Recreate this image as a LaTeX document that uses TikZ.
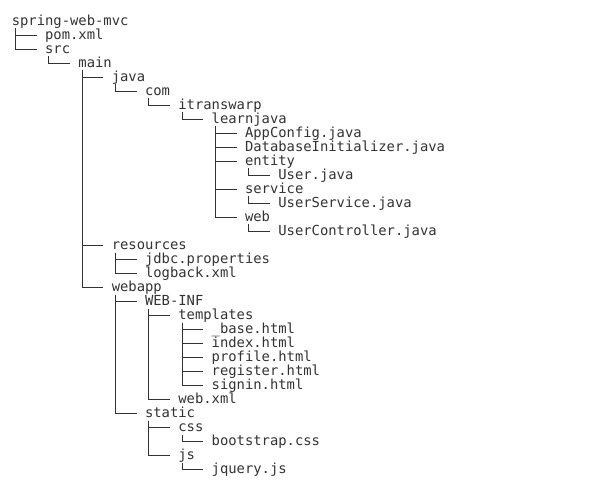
\documentclass[tikz,border=0pt]{standalone}
\usepackage{fontspec}
\setmonofont{DejaVu Sans Mono}
\definecolor{ink}{HTML}{333333}
\begin{document}
\begin{tikzpicture}[x=1bp,y=1bp,
  item/.style={anchor=base west,inner sep=0pt,outer sep=0pt,text=ink,
    font=\ttfamily\fontsize{13.84bp}{14bp}\selectfont},
  conn/.style={draw=ink,line width=1bp}]
\useasboundingbox[fill=white] (0,0) rectangle (615,-492);
% rows: centre = 21.5+14*i, baseline 4 below; x = 11.8+33.32*L
\newcommand\entry[4]{\node[item] (#1) at ({11.8+33.32*#2},{-(25.5+14*#3)}) {#4};}
\entry{root}{0}{0}{spring-web-mvc}
\entry{pom}{1}{1}{pom.xml}
\entry{src}{1}{2}{src}
\entry{main}{2}{3}{main}
\entry{java}{3}{4}{java}
\entry{com}{4}{5}{com}
\entry{itw}{5}{6}{itranswarp}
\entry{lj}{6}{7}{learnjava}
\entry{appc}{7}{8}{AppConfig.java}
\entry{dbi}{7}{9}{DatabaseInitializer.java}
\entry{entity}{7}{10}{entity}
\entry{user}{8}{11}{User.java}
\entry{service}{7}{12}{service}
\entry{usvc}{8}{13}{UserService.java}
\entry{web}{7}{14}{web}
\entry{uctl}{8}{15}{UserController.java}
\entry{res}{3}{16}{resources}
\entry{jdbc}{4}{17}{jdbc.properties}
\entry{logb}{4}{18}{logback.xml}
\entry{webapp}{3}{19}{webapp}
\entry{webinf}{4}{20}{WEB-INF}
\entry{tpl}{5}{21}{templates}
\entry{base}{6}{22}{\_base.html}
\entry{index}{6}{23}{index.html}
\entry{profile}{6}{24}{profile.html}
\entry{register}{6}{25}{register.html}
\entry{signin}{6}{26}{signin.html}
\entry{webxml}{5}{27}{web.xml}
\entry{static}{4}{28}{static}
\entry{css}{5}{29}{css}
\entry{bscss}{6}{30}{bootstrap.css}
\entry{js}{5}{31}{js}
\entry{jq}{6}{32}{jquery.js}
\foreach \p/\c in {root/pom,root/src,src/main,main/java,main/res,main/webapp,
  java/com,com/itw,itw/lj,lj/appc,lj/dbi,lj/entity,lj/service,lj/web,
  entity/user,service/usvc,web/uctl,res/jdbc,res/logb,webapp/webinf,webapp/static,
  webinf/tpl,webinf/webxml,tpl/base,tpl/index,tpl/profile,tpl/register,tpl/signin,
  static/css,static/js,css/bscss,js/jq}
  \draw[conn] ([xshift=3.7bp,yshift=-3bp]\p.base west) |- ([xshift=-8.5bp,yshift=4bp]\c.base west);
\end{tikzpicture}
\end{document}
